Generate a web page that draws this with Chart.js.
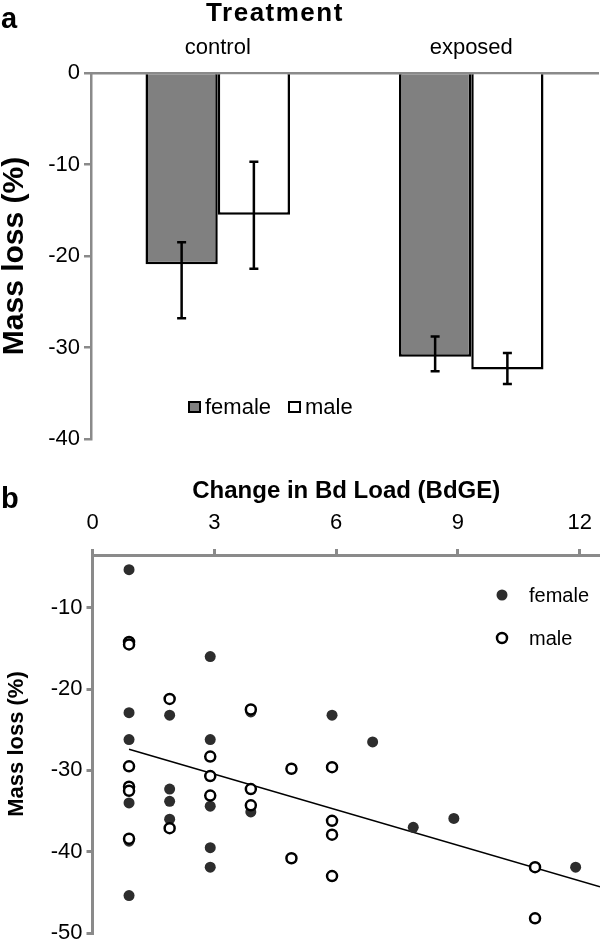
<!DOCTYPE html>
<html>
<head>
<meta charset="utf-8">
<script src="https://cdn.jsdelivr.net/npm/chart.js@4"></script>
<style>
  html, body { margin: 0; padding: 0; background: #fff; }
  body { width: 600px; height: 942px; position: relative; overflow: hidden; font-family: "Liberation Sans", Arial, sans-serif; }
  .panel { position: absolute; left: 0; width: 600px; }
  #wrapA { top: 0; height: 470px; }
  #wrapB { top: 470px; height: 472px; }
  .lbl { position: absolute; font-weight: bold; line-height: 1; color: #000; }
</style>
</head>
<body>
<div id="wrapA" class="panel"><canvas id="barChart"></canvas></div>
<div id="wrapB" class="panel"><canvas id="scatterChart"></canvas></div>
<div class="lbl" style="left:1px;top:4px;font-size:29px">a</div>
<div class="lbl" style="left:1px;top:484px;font-size:29px">b</div>
<div class="lbl" style="left:185px;top:-1px;width:180px;text-align:center;font-size:26px;letter-spacing:1.5px">Treatment</div>
<script>
// panel a: mass loss by treatment
const treatments = ["control", "exposed"];
const femaleMean = [-20.9, -31.0];
const maleMean = [-15.5, -32.4];
const femaleErrTop = [-18.5, -28.8];
const femaleErrBottom = [-26.8, -32.6];
const maleErrTop = [-9.7, -30.6];
const maleErrBottom = [-21.4, -34.0];

// panel b: mass loss vs change in Bd load
const femaleLoad = [0.9, 0.9, 0.9, 0.9, 0.9, 0.9, 1.9, 1.9, 1.9, 1.9, 2.9, 2.9, 2.9, 2.9, 2.9, 3.9, 3.9, 5.9, 6.9, 7.9, 8.9, 11.9];
const femaleLoss = [-5.3, -22.9, -26.2, -34.0, -38.7, -45.4, -23.2, -32.3, -33.8, -36.0, -16.0, -26.2, -34.4, -39.5, -41.9, -22.8, -35.1, -23.2, -26.5, -37.0, -35.9, -41.9];
const maleLoad = [0.9, 0.9, 0.9, 0.9, 0.9, 0.9, 1.9, 1.9, 2.9, 2.9, 2.9, 3.9, 3.9, 3.9, 4.9, 4.9, 5.9, 5.9, 5.9, 5.9, 10.9, 10.9];
const maleLoss = [-14.2, -14.5, -29.5, -32.0, -32.5, -38.4, -21.2, -37.1, -28.3, -30.7, -33.1, -22.5, -32.3, -34.3, -29.8, -40.8, -29.6, -36.2, -37.9, -43.0, -41.9, -48.2];
const trendLoad = [0.9, 12.5];
const trendLoss = [-27.4, -44.3];

Chart.defaults.font.family = "'Liberation Sans', Arial, sans-serif";
Chart.defaults.color = "#000";

const AXIS_GREY = "#8a8a8a";

// keep the plot box where we put it: no extra room for label overhang
function fixBox(w, h) {
  return s => {
    if (w !== null) s.width = w;
    if (h !== null) s.height = h;
    s.paddingLeft = 0;
    s.paddingRight = 0;
    s.paddingTop = 0;
    s.paddingBottom = 0;
  };
}

// draws error whiskers from errTop/errBottom arrays on each bar dataset
const errorBars = {
  id: "errorBars",
  afterDatasetsDraw(chart) {
    const ctx = chart.ctx;
    const y = chart.scales.y;
    ctx.save();
    ctx.strokeStyle = "#000";
    ctx.lineWidth = 2.5;
    chart.data.datasets.forEach((ds, i) => {
      chart.getDatasetMeta(i).data.forEach((bar, j) => {
        const top = y.getPixelForValue(ds.errTop[j]);
        const bot = y.getPixelForValue(ds.errBottom[j]);
        const cap = 4.5;
        ctx.beginPath();
        ctx.moveTo(bar.x, top);
        ctx.lineTo(bar.x, bot);
        ctx.moveTo(bar.x - cap, top);
        ctx.lineTo(bar.x + cap, top);
        ctx.moveTo(bar.x - cap, bot);
        ctx.lineTo(bar.x + cap, bot);
        ctx.stroke();
      });
    });
    ctx.restore();
  }
};

// small legend drawn inside the plot area
const innerLegend = {
  id: "innerLegend",
  afterDraw(chart, args, opts) {
    const ctx = chart.ctx;
    ctx.save();
    ctx.font = opts.font;
    ctx.textBaseline = "middle";
    opts.xs.forEach((x, i) => {
      const ds = chart.data.datasets[i];
      const y = opts.ys[i];
      if (opts.kind === "box") {
        ctx.fillStyle = ds.backgroundColor;
        ctx.fillRect(x, y - 6, 13, 12);
        ctx.strokeStyle = "#000";
        ctx.lineWidth = 2;
        ctx.strokeRect(x + 1, y - 5, 11, 10);
      } else {
        ctx.beginPath();
        ctx.arc(x, y, ds.pointRadius, 0, Math.PI * 2);
        ctx.fillStyle = ds.pointBackgroundColor;
        ctx.fill();
        if (ds.pointBorderWidth) {
          ctx.strokeStyle = ds.pointBorderColor;
          ctx.lineWidth = ds.pointBorderWidth;
          ctx.stroke();
        }
      }
      ctx.fillStyle = "#000";
      ctx.fillText(ds.label, x + opts.textGap, y + 1);
    });
    ctx.restore();
  }
};

new Chart(document.getElementById("barChart"), {
  type: "bar",
  data: {
    labels: treatments,
    datasets: [
      {
        label: "female",
        data: femaleMean,
        errTop: femaleErrTop,
        errBottom: femaleErrBottom,
        backgroundColor: "#808080",
        borderColor: "#000",
        borderWidth: 2.5,
        categoryPercentage: 0.57,
        barPercentage: 1
      },
      {
        label: "male",
        data: maleMean,
        errTop: maleErrTop,
        errBottom: maleErrBottom,
        backgroundColor: "#fff",
        borderColor: "#000",
        borderWidth: 2.5,
        categoryPercentage: 0.57,
        barPercentage: 1
      }
    ]
  },
  options: {
    responsive: true,
    maintainAspectRatio: false,
    animation: false,
    layout: { autoPadding: false, padding: { left: 0, right: 2, top: 0, bottom: 31 } },
    plugins: {
      legend: { display: false },
      tooltip: { enabled: false },
      innerLegend: { kind: "box", xs: [188, 288], ys: [407, 407], textGap: 17, font: "22px 'Liberation Sans', Arial, sans-serif" }
    },
    scales: {
      x: {
        position: "top",
        grid: { display: false, drawTicks: false },
        border: { color: AXIS_GREY, width: 2.5 },
        ticks: { font: { size: 22 }, padding: 12 },
        afterFit: fixBox(null, 73)
      },
      y: {
        min: -40,
        max: 0,
        ticks: { stepSize: 10, font: { size: 22 }, padding: 4 },
        grid: { drawOnChartArea: false, tickLength: 7, color: AXIS_GREY, lineWidth: 2.5 },
        border: { color: AXIS_GREY, width: 2.5 },
        title: { display: true, text: "Mass loss (%)", font: { size: 30, weight: "bold", lineHeight: 1 }, padding: 0 },
        afterFit: fixBox(91, null)
      }
    }
  },
  plugins: [errorBars, innerLegend]
});

new Chart(document.getElementById("scatterChart"), {
  type: "scatter",
  data: {
    datasets: [
      {
        label: "female",
        data: femaleLoad.map((x, i) => ({ x: x, y: femaleLoss[i] })),
        pointRadius: 5.5,
        pointBackgroundColor: "#2d2d2d",
        pointBorderWidth: 0,
        order: 1
      },
      {
        label: "male",
        data: maleLoad.map((x, i) => ({ x: x, y: maleLoss[i] })),
        pointRadius: 5,
        pointBackgroundColor: "#fff",
        pointBorderColor: "#000",
        pointBorderWidth: 2.5,
        order: 0
      },
      {
        type: "line",
        label: "trend",
        data: trendLoad.map((x, i) => ({ x: x, y: trendLoss[i] })),
        borderColor: "#000",
        borderWidth: 1.5,
        pointRadius: 0,
        order: 2
      }
    ]
  },
  options: {
    responsive: true,
    maintainAspectRatio: false,
    animation: false,
    layout: { autoPadding: false, padding: { left: 0, right: 0, top: 0, bottom: 9 } },
    plugins: {
      legend: { display: false },
      tooltip: { enabled: false },
      innerLegend: { kind: "dot", xs: [502, 502], ys: [125, 168], textGap: 27, font: "20px 'Liberation Sans', Arial, sans-serif" }
    },
    scales: {
      x: {
        type: "linear",
        position: "top",
        min: 0,
        max: 12.5,
        ticks: { stepSize: 3, includeBounds: false, font: { size: 22 }, padding: 13 },
        grid: { drawOnChartArea: false, tickLength: 6, color: AXIS_GREY, lineWidth: 3 },
        border: { color: AXIS_GREY, width: 3 },
        title: { display: true, text: "Change in Bd Load (BdGE)", font: { size: 24, weight: "bold", lineHeight: 1 }, padding: { top: 9, bottom: 0 } },
        afterFit: fixBox(null, 85)
      },
      y: {
        min: -50,
        max: -3.5,
        ticks: { stepSize: 10, includeBounds: false, font: { size: 22 }, padding: 4 },
        grid: { drawOnChartArea: false, tickLength: 6, color: AXIS_GREY, lineWidth: 3 },
        border: { color: AXIS_GREY, width: 3 },
        title: { display: true, text: "Mass loss (%)", font: { size: 22, weight: "bold", lineHeight: 1 }, padding: { top: 6, bottom: 0 } },
        afterFit: fixBox(92.5, null)
      }
    }
  },
  plugins: [innerLegend]
});
</script>
</body>
</html>
